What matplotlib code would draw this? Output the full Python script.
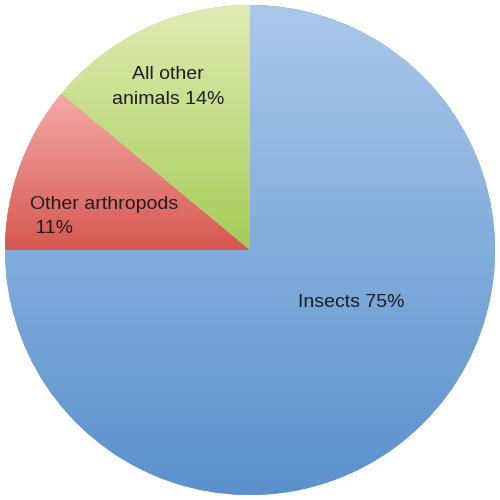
import numpy as np
import matplotlib.pyplot as plt
from matplotlib.colors import LinearSegmentedColormap

# share of described animal species
groups = ["Insects", "Other arthropods", "All other animals"]
shares = [75, 11, 14]
label_text = ["Insects 75%", "Other arthropods\n 11%", "All other\nanimals 14%"]

# gradient colours (top, bottom) for each slice
grad_top = ["#abc8ea", "#f4aba8", "#e0ebb2"]
grad_bottom = ["#5a91cd", "#d6574f", "#a6cc58"]

fig = plt.figure(figsize=(5, 5), dpi=100)
ax = fig.add_axes([0, 0, 1, 1])

wedges, _ = ax.pie(shares, startangle=90, counterclock=False, radius=1.0,
                   colors=grad_bottom, wedgeprops=dict(linewidth=0))

for w, c0, c1 in zip(wedges, grad_top, grad_bottom):
    cmap = LinearSegmentedColormap.from_list("g", [c1, c0])
    # vertical gradient over the slice's own height
    th = np.radians(np.linspace(w.theta1, w.theta2, 200))
    ys = np.concatenate([np.sin(th), [0]])
    y0, y1 = ys.min(), ys.max()
    grad = np.linspace(0, 1, 256).reshape(-1, 1)
    im = ax.imshow(grad, cmap=cmap, origin="lower", aspect="auto",
                   extent=[-1, 1, y0, y1], interpolation="bilinear", zorder=2)
    im.set_clip_path(w)

lim = 250 / 245
ax.set_xlim(-lim, lim)
ax.set_ylim(-lim, lim)
ax.set_aspect("equal")
ax.axis("off")

txt = dict(fontsize=14, color="#1e1e24", family="Liberation Sans", zorder=5)
ax.text(0.412, -0.215, label_text[0], ha="center", va="center", **txt)
ax.text(-0.898, 0.137, label_text[1], ha="left", va="center",
        linespacing=1.55, **txt)
ax.text(-0.335, 0.665, label_text[2], ha="center", va="center",
        linespacing=1.65, **txt)

fig.savefig("out.png", dpi=100)
